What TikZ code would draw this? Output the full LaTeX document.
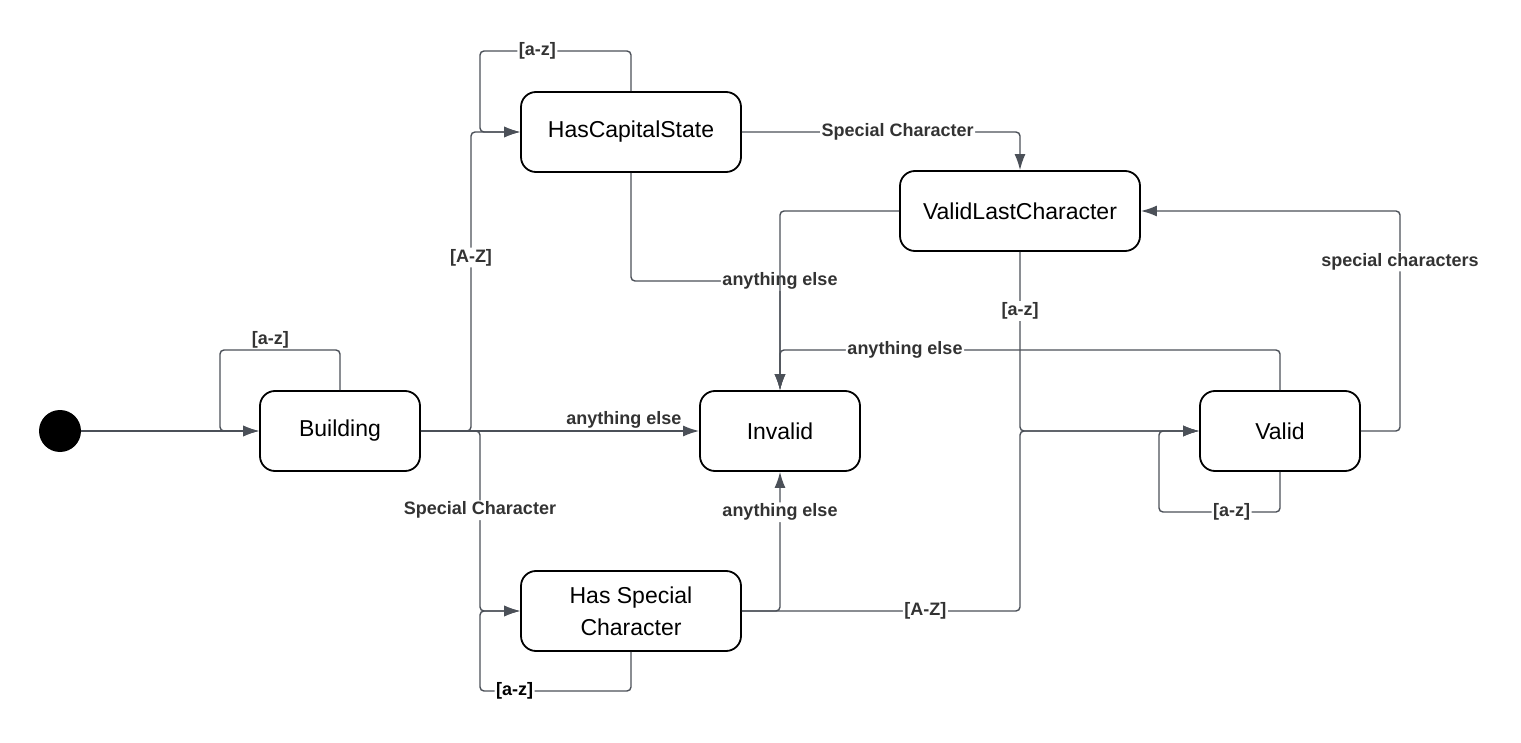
\documentclass[tikz,border=0pt]{standalone}
\usepackage{fontspec}
\setmainfont{Liberation Sans}
\usepackage{xcolor}
\usetikzlibrary{arrows.meta}
\definecolor{linegray}{HTML}{4B5058}
\definecolor{labgray}{HTML}{333333}

\begin{document}
\begin{tikzpicture}[x=1pt,y=-1pt,
    state/.style={draw=black, line width=1.8pt, rounded corners=15pt, minimum width=160pt, minimum height=80pt, align=center, font=\fontsize{23}{32}\selectfont},
    edge/.style={draw=linegray, line width=1.4pt, rounded corners=4pt, -{Latex[length=16pt,width=11pt]}},
    lab/.style={fill=white, text=labgray, inner sep=1.5pt, font=\bfseries\fontsize{18}{20}\selectfont}]
    \useasboundingbox (0,0) rectangle (1521,743);
    \node[circle, fill=black, minimum size=42pt, inner sep=0pt] (start) at (60,431) {};
    \node[state] (bld) at (340,431) {Building};
    \node[state, minimum width=220pt] (hcs) at (631,132) {HasCapitalState};
    \node[state, minimum width=240pt] (vlc) at (1020,211) {ValidLastCharacter};
    \node[state] (inv) at (780,431) {Invalid};
    \node[state] (val) at (1280,431) {Valid};
    \node[state, minimum width=220pt] (hsc) at (631,611) {Has Special\\Character};
    \draw[edge] (start) -- (bld);
    \draw[edge] (bld.north) -- (340,350) -- node[lab, fill=none, anchor=south, pos=0.58] {[a-z]} (220,350) -- (220,431) -- (bld.west);
    \draw[edge] (bld.east) -- (471,431) -- node[lab, pos=0.58] {[A-Z]} (471,132) -- (hcs.west);
    \draw[edge] (hcs.north) -- (631,51) -- node[lab, pos=0.62] {[a-z]} (480,51) -- (480,132) -- (hcs.west);
    \draw[edge] (hcs.east) -- node[lab, pos=0.56] {Special Character} (1020,132) -- (vlc.north);
    \draw[edge] (hcs.south) -- (631,281) -- (780,281) node[lab] {anything else} -- (inv.north);
    \draw[edge] (vlc.west) -- (780,211) -- (inv.north);
    \draw[edge] (val.north) -- (1280,350) -- node[lab, pos=0.75] {anything else} (780,350) -- (inv.north);
    \draw[edge] (vlc.south) -- node[lab, pos=0.33] {[a-z]} (1020,431) -- (val.west);
    \draw[edge] (val.east) -- (1400,431) -- node[lab, pos=0.77] {special characters} (1400,211) -- (vlc.east);
    \draw[edge] (val.south) -- (1280,512) -- node[lab, pos=0.4] {[a-z]} (1159,512) -- (1159,431) -- (val.west);
    \draw[edge] (bld.east) -- node[lab, fill=none, anchor=south, pos=0.73] {anything else} (inv.west);
    \draw[edge] (bld.east) -- (480,431) -- node[lab, pos=0.44] {Special Character} (480,611) -- (hsc.west);
    \draw[edge] (hsc.south) -- (631,691) -- node[lab, text=black, pos=0.77] {[a-z]} (480,691) -- (480,611) -- (hsc.west);
    \draw[edge] (hsc.east) -- (780,611) -- node[lab, pos=0.71] {anything else} (inv.south);
    \draw[edge] (hsc.east) -- node[lab, pos=0.66] {[A-Z]} (1020,611) -- (1020,431) -- (val.west);
\end{tikzpicture}
\end{document}
